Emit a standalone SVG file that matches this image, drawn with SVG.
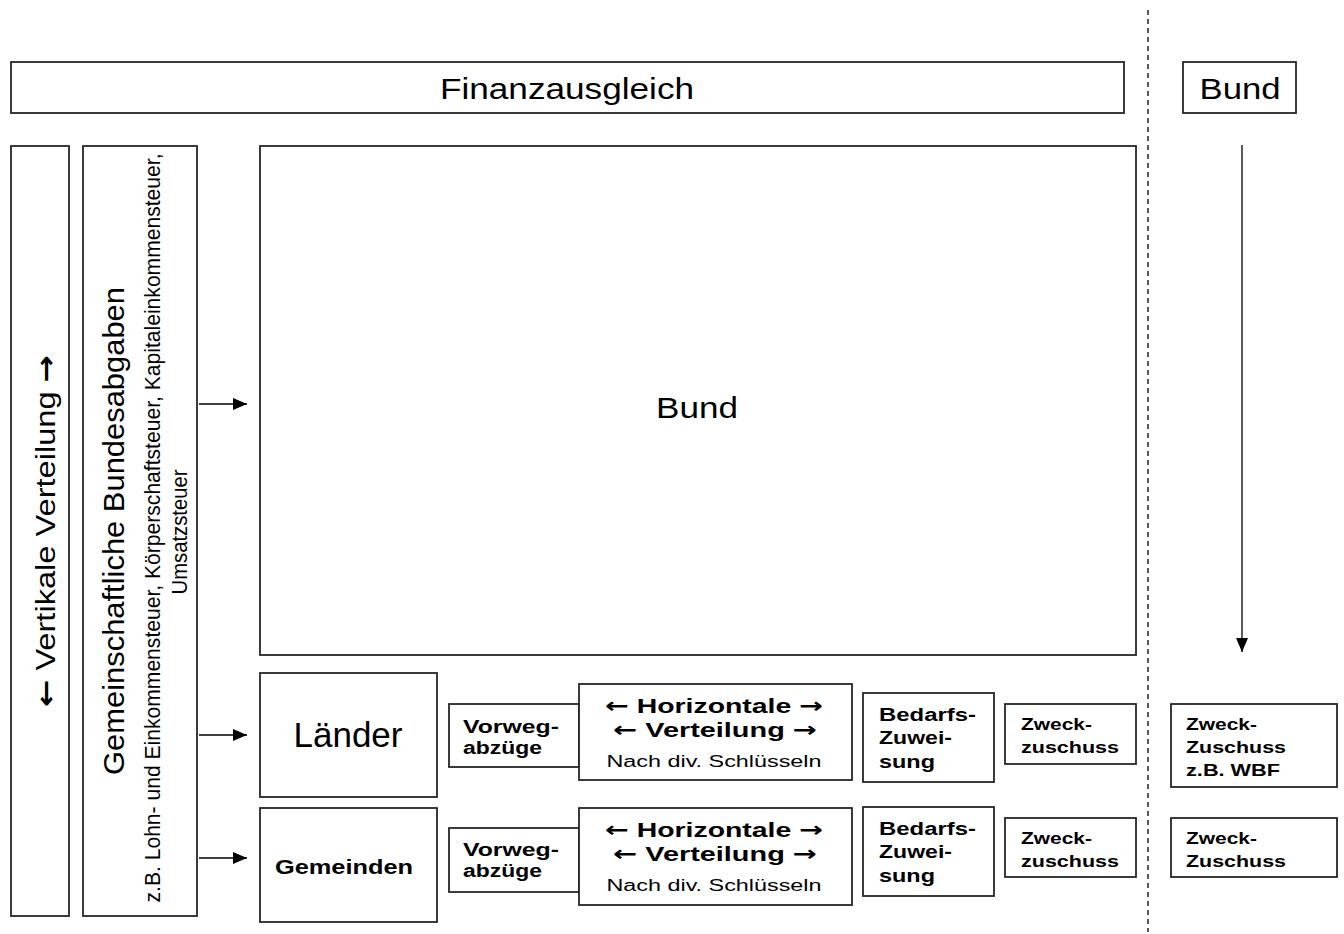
<svg xmlns="http://www.w3.org/2000/svg" width="1344" height="934" viewBox="0 0 1344 934">
<style>
.box{fill:#fff;stroke:#262626;stroke-width:1.8}
.t{font-family:"Liberation Sans",Arial,sans-serif;fill:#000}
.b{font-weight:bold}
.ar{font-family:"DejaVu Sans",sans-serif;font-weight:bold;fill:#000}
.n{font-family:"Liberation Sans Narrow","Liberation Sans",Arial,sans-serif;fill:#000}
.c{text-anchor:middle}
.con{stroke:#000;stroke-width:1.3;fill:none}
</style>
<defs>
<marker id="ah" viewBox="0 0 14 12" refX="14" refY="6" markerWidth="14" markerHeight="12" markerUnits="userSpaceOnUse" orient="auto">
<path d="M0,0 L14,6 L0,12 z" fill="#000"/>
</marker>
</defs>
<rect width="1344" height="934" fill="#fff"/>

<line x1="1148" y1="10" x2="1148" y2="932" stroke="#222" stroke-width="1.5" stroke-dasharray="5,4"/>

<g id="finanzausgleich">
<rect class="box" x="11" y="62" width="1113" height="51"/>
<text class="t c" x="567" y="99" font-size="30" textLength="254" lengthAdjust="spacingAndGlyphs">Finanzausgleich</text>
</g>
<g id="bund-header">
<rect class="box" x="1183" y="62" width="113" height="51"/>
<text class="t c" x="1240" y="99" font-size="30" textLength="81" lengthAdjust="spacingAndGlyphs">Bund</text>
</g>

<g id="vertikale">
<rect class="box" x="11" y="146" width="58" height="770"/>
<text class="t c" transform="translate(55,531) rotate(-90)" font-size="27" textLength="352" lengthAdjust="spacingAndGlyphs"><tspan class="ar">←</tspan> Vertikale Verteilung <tspan class="ar">→</tspan></text>
</g>

<g id="gemeinschaftliche">
<rect class="box" x="83" y="146" width="114" height="770"/>
<text class="t c" transform="translate(124,531) rotate(-90)" font-size="30" textLength="488" lengthAdjust="spacingAndGlyphs">Gemeinschaftliche Bundesabgaben</text>
<text class="n c" transform="translate(160,528) rotate(-90)" font-size="22" textLength="749" lengthAdjust="spacingAndGlyphs">z.B. Lohn- und Einkommensteuer, Körperschaftsteuer, Kapitaleinkommensteuer,</text>
<text class="n c" transform="translate(187,532) rotate(-90)" font-size="22" textLength="125" lengthAdjust="spacingAndGlyphs">Umsatzsteuer</text>
</g>

<g id="bund">
<rect class="box" x="260" y="146" width="876" height="509"/>
<text class="t c" x="697" y="418" font-size="30" textLength="82" lengthAdjust="spacingAndGlyphs">Bund</text>
</g>

<g id="laender">
<rect class="box" x="260" y="673" width="177" height="124"/>
<text class="t c" x="348" y="747" font-size="35" textLength="109" lengthAdjust="spacingAndGlyphs">Länder</text>
</g>
<g id="gemeinden">
<rect class="box" x="260" y="808" width="177" height="114"/>
<text class="t b c" x="344" y="874" font-size="21" textLength="138" lengthAdjust="spacingAndGlyphs">Gemeinden</text>
</g>

<g id="vorweg1">
<rect class="box" x="449" y="704" width="130" height="63"/>
<text class="t b" x="463" y="733" font-size="18" textLength="96" lengthAdjust="spacingAndGlyphs">Vorweg-</text>
<text class="t b" x="463" y="754" font-size="18" textLength="79" lengthAdjust="spacingAndGlyphs">abzüge</text>
</g>
<g id="horizontal1">
<rect class="box" x="579" y="684" width="273" height="96"/>
<text class="t b c" x="714" y="713" font-size="21" textLength="218" lengthAdjust="spacingAndGlyphs"><tspan class="ar">←</tspan> Horizontale <tspan class="ar">→</tspan></text>
<text class="t b c" x="715" y="737" font-size="21" textLength="204" lengthAdjust="spacingAndGlyphs"><tspan class="ar">←</tspan> Verteilung <tspan class="ar">→</tspan></text>
<text class="t c" x="714" y="767" font-size="16" textLength="215" lengthAdjust="spacingAndGlyphs">Nach div. Schlüsseln</text>
</g>
<g id="bedarf1">
<rect class="box" x="863" y="693" width="131" height="89"/>
<text class="t b" x="879" y="721" font-size="18" textLength="97" lengthAdjust="spacingAndGlyphs">Bedarfs-</text>
<text class="t b" x="879" y="744" font-size="18" textLength="73" lengthAdjust="spacingAndGlyphs">Zuwei-</text>
<text class="t b" x="879" y="768" font-size="18" textLength="56" lengthAdjust="spacingAndGlyphs">sung</text>
</g>
<g id="zweck1">
<rect class="box" x="1005" y="704" width="131" height="60"/>
<text class="t b" x="1021" y="730" font-size="17" textLength="71" lengthAdjust="spacingAndGlyphs">Zweck-</text>
<text class="t b" x="1021" y="753" font-size="17" textLength="98" lengthAdjust="spacingAndGlyphs">zuschuss</text>
</g>
<g id="zweck-wbf">
<rect class="box" x="1171" y="704" width="166" height="83"/>
<text class="t b" x="1186" y="730" font-size="17" textLength="71" lengthAdjust="spacingAndGlyphs">Zweck-</text>
<text class="t b" x="1186" y="753" font-size="17" textLength="100" lengthAdjust="spacingAndGlyphs">Zuschuss</text>
<text class="t b" x="1186" y="776" font-size="17" textLength="94" lengthAdjust="spacingAndGlyphs">z.B. WBF</text>
</g>

<g id="vorweg2">
<rect class="box" x="449" y="828" width="130" height="64"/>
<text class="t b" x="463" y="856" font-size="18" textLength="96" lengthAdjust="spacingAndGlyphs">Vorweg-</text>
<text class="t b" x="463" y="877" font-size="18" textLength="79" lengthAdjust="spacingAndGlyphs">abzüge</text>
</g>
<g id="horizontal2">
<rect class="box" x="579" y="808" width="273" height="97"/>
<text class="t b c" x="714" y="837" font-size="21" textLength="218" lengthAdjust="spacingAndGlyphs"><tspan class="ar">←</tspan> Horizontale <tspan class="ar">→</tspan></text>
<text class="t b c" x="715" y="861" font-size="21" textLength="204" lengthAdjust="spacingAndGlyphs"><tspan class="ar">←</tspan> Verteilung <tspan class="ar">→</tspan></text>
<text class="t c" x="714" y="891" font-size="16" textLength="215" lengthAdjust="spacingAndGlyphs">Nach div. Schlüsseln</text>
</g>
<g id="bedarf2">
<rect class="box" x="863" y="807" width="131" height="89"/>
<text class="t b" x="879" y="835" font-size="18" textLength="97" lengthAdjust="spacingAndGlyphs">Bedarfs-</text>
<text class="t b" x="879" y="858" font-size="18" textLength="73" lengthAdjust="spacingAndGlyphs">Zuwei-</text>
<text class="t b" x="879" y="882" font-size="18" textLength="56" lengthAdjust="spacingAndGlyphs">sung</text>
</g>
<g id="zweck2">
<rect class="box" x="1005" y="818" width="131" height="59"/>
<text class="t b" x="1021" y="844" font-size="17" textLength="71" lengthAdjust="spacingAndGlyphs">Zweck-</text>
<text class="t b" x="1021" y="867" font-size="17" textLength="98" lengthAdjust="spacingAndGlyphs">zuschuss</text>
</g>
<g id="zweck-bund2">
<rect class="box" x="1171" y="818" width="166" height="59"/>
<text class="t b" x="1186" y="844" font-size="17" textLength="71" lengthAdjust="spacingAndGlyphs">Zweck-</text>
<text class="t b" x="1186" y="867" font-size="17" textLength="100" lengthAdjust="spacingAndGlyphs">Zuschuss</text>
</g>

<g id="connectors">
<line class="con" x1="199" y1="404" x2="247" y2="404" marker-end="url(#ah)"/>
<line class="con" x1="199" y1="735" x2="247" y2="735" marker-end="url(#ah)"/>
<line class="con" x1="199" y1="858" x2="247" y2="858" marker-end="url(#ah)"/>
<line class="con" x1="1242" y1="145" x2="1242" y2="652" marker-end="url(#ah)"/>
</g>
</svg>
